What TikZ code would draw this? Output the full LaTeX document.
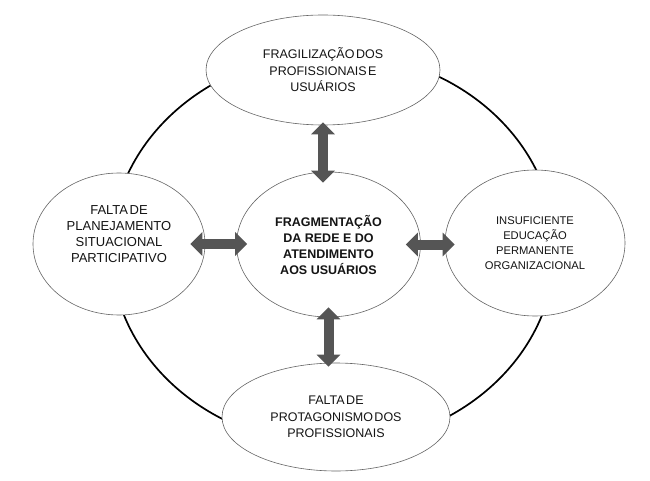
\documentclass[tikz,border=0pt]{standalone}
\usepackage{fontspec}
\setmainfont{Liberation Sans}
\usetikzlibrary{shapes.geometric,arrows.meta}
\definecolor{arrowgray}{RGB}{85,85,85}
\definecolor{rimgray}{RGB}{100,100,100}
\newcommand\tightsp{\spaceskip=0.12em\relax}

\begin{document}
\begin{tikzpicture}[x=1pt, y=-1pt,
    bubble/.style={ellipse, draw=rimgray, line width=0.6pt, fill=white, inner sep=0pt,
        align=center, text=black!92, font=\fontsize{12.5}{16.5}\selectfont\tightsp},
    link/.style={line width=10pt, draw=arrowgray,
        {Triangle[width=23pt,length=12pt]}-{Triangle[width=23pt,length=12pt]}}]
    \useasboundingbox (0,0) rectangle (650,481);

    % outer ring
    \draw[line width=1.7pt] (333,249) ellipse [x radius=222pt, y radius=196pt];

    \node[bubble, minimum width=234pt, minimum height=110pt] (frag) at (323,70)
        {FRAGILIZAÇÃO DOS\\PROFISSIONAIS E\\USUÁRIOS};
    \node[bubble, minimum width=184pt, minimum height=145pt,
        font=\fontsize{12.5}{16}\selectfont\bfseries] (core) at (328.5,244.5)
        {FRAGMENTAÇÃO\\DA REDE E DO\\ATENDIMENTO\\AOS USUÁRIOS};
    \node[bubble, minimum width=172pt, minimum height=142pt,
        font=\fontsize{13}{16}\selectfont\tightsp] (plan) at (119,244)
        {FALTA DE\\PLANEJAMENTO\\SITUACIONAL\\PARTICIPATIVO\\[4pt]\mbox{}};
    \node[bubble, minimum width=180pt, minimum height=146pt,
        font=\fontsize{11.2}{15}\selectfont] (educ) at (535,243)
        {INSUFICIENTE\\EDUCAÇÃO\\PERMANENTE\\ORGANIZACIONAL};
    \node[bubble, minimum width=228pt, minimum height=108pt] (prot) at (336,417)
        {FALTA DE\\PROTAGONISMO DOS\\PROFISSIONAIS};

    \draw[link, shorten <=-3pt, shorten >=-11pt] (frag.south) -- (frag.south |- core.north);
    \draw[link, shorten <=-10pt, shorten >=-4pt] (core.south) -- (core.south |- prot.north);
    \draw[link, shorten <=-15pt, shorten >=-11pt] (plan.east) -- (plan.east -| core.west);
    \draw[link, shorten <=-15pt, shorten >=-10pt] (core.east) -- (core.east -| educ.west);
\end{tikzpicture}
\end{document}
